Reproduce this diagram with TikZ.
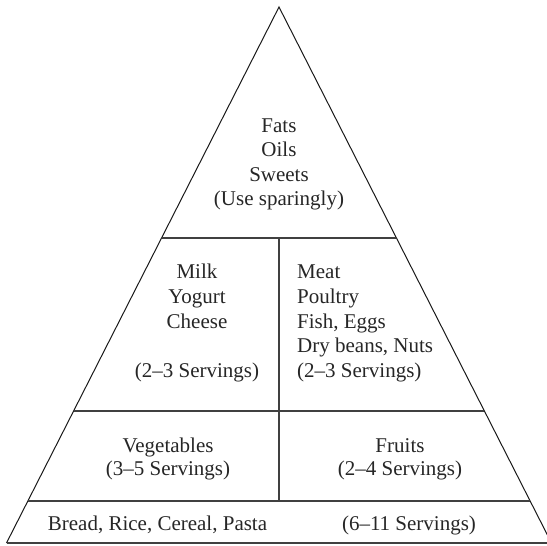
\documentclass[tikz,border=0pt]{standalone}
\usepackage{fontspec}
\setmainfont{Liberation Serif}
\usetikzlibrary{calc}
\tikzset{
  edge/.style={line width=1pt, draw=black!90},
  band/.style={line width=1.1pt, draw=black!75},
  label/.style={font=\fontsize{21}{24.5}\selectfont, inner sep=0pt, text=black!85},
}
\begin{document}
\begin{tikzpicture}[x=1pt,y=-1pt]
\useasboundingbox (0,0) rectangle (547,546);
\clip (0,0) rectangle (547,546);
\coordinate (A) at (279,7);
\coordinate (L) at (6.5,543);
\coordinate (R) at (551.5,543);
\coordinate (l1) at ($(A)!0.431!(L)$);
\coordinate (r1) at ($(A)!0.431!(R)$);
\coordinate (l2) at ($(A)!0.7537!(L)$);
\coordinate (r2) at ($(A)!0.7537!(R)$);
\coordinate (l3) at ($(A)!0.9216!(L)$);
\coordinate (r3) at ($(A)!0.9216!(R)$);
\coordinate (v1) at (279,238);
\coordinate (v2) at (279,501);
\draw[edge] (L) -- (A) -- (R);
\draw[band] (L) -- (R);
\draw[band] (l1) -- (r1);
\draw[band] (l2) -- (r2);
\draw[band] (l3) -- (r3);
\draw[band] (v1) -- (v2);
\node[label, anchor=base] (fats) at (279,132) {Fats};
\node[label, anchor=base] (oils) at (279,156.5) {Oils};
\node[label, anchor=base] (sweets) at (279,181) {Sweets};
\node[label, anchor=base] (spar) at (279,205) {(Use sparingly)};
\node[label, anchor=base] (milk) at (197,278) {Milk};
\node[label, anchor=base] (yog) at (197,303) {Yogurt};
\node[label, anchor=base] (chee) at (197,328) {Cheese};
\node[label, anchor=base] (ms) at (197,377) {(2--3 Servings)};
\node[label, anchor=base west] (meat) at (297,278) {Meat};
\node[label, anchor=base west] (poul) at (297,303) {Poultry};
\node[label, anchor=base west] (fish) at (297,328) {Fish, Eggs};
\node[label, anchor=base west] (beans) at (297,352.5) {Dry beans, Nuts};
\node[label, anchor=base west] (mts) at (297,377) {(2--3 Servings)};
\node[label, anchor=base] (veg) at (168,452) {Vegetables};
\node[label, anchor=base] (vegs) at (168,475.5) {(3--5 Servings)};
\node[label, anchor=base] (fru) at (400,452) {Fruits};
\node[label, anchor=base] (frus) at (400,475.5) {(2--4 Servings)};
\node[label, anchor=base] (bread) at (157.5,530) {Bread, Rice, Cereal, Pasta};
\node[label, anchor=base] (breads) at (409,530) {(6--11 Servings)};
\end{tikzpicture}
\end{document}
